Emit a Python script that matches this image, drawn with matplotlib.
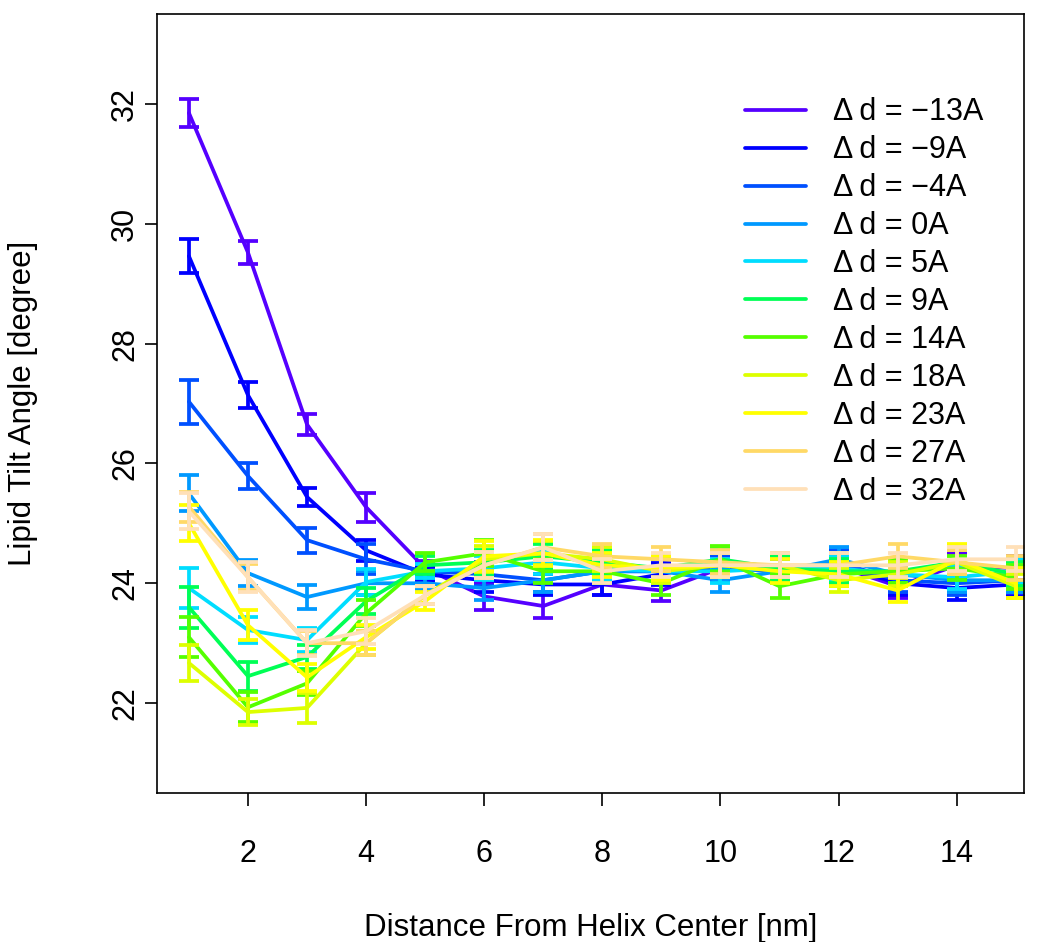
import matplotlib
matplotlib.use("Agg")
import matplotlib.pyplot as plt
import numpy as np

plt.rcParams['font.family'] = ['Liberation Sans', 'DejaVu Sans']

distance = list(range(1, 16))
labels = ["Δ\u2009d = −13A", "Δ\u2009d = −9A", "Δ\u2009d = −4A", "Δ\u2009d = 0A", "Δ\u2009d = 5A",
          "Δ\u2009d = 9A", "Δ\u2009d = 14A", "Δ\u2009d = 18A", "Δ\u2009d = 23A", "Δ\u2009d = 27A",
          "Δ\u2009d = 32A"]
colors = ["#5500FF", "#0000FF", "#0050FF", "#0099FF", "#00DDFF", "#00FF55",
          "#55FF00", "#DDFF00", "#FFFF00", "#FFD966", "#FFE0B8"]

tilt_m13 = [31.85, 29.52, 26.65, 25.27, 24.25, 23.78, 23.62, 23.98, 23.88, 24.25, 24.22, 24.28, 23.95, 24.30, 24.25]
tilt_m9  = [29.46, 27.14, 25.44, 24.55, 24.15, 24.05, 23.98, 23.98, 24.15, 24.35, 24.25, 24.30, 24.00, 23.92, 23.98]
tilt_m4  = [27.03, 25.79, 24.72, 24.40, 24.20, 24.15, 24.05, 24.20, 24.20, 24.25, 24.20, 24.35, 24.05, 24.00, 24.05]
tilt_0   = [25.50, 24.17, 23.77, 24.00, 24.00, 23.92, 24.05, 24.20, 24.20, 24.05, 24.20, 24.40, 24.15, 24.05, 24.05]
tilt_5   = [23.92, 23.22, 23.05, 24.02, 24.20, 24.25, 24.35, 24.25, 24.20, 24.20, 24.25, 24.25, 24.15, 24.10, 24.20]
tilt_9   = [23.60, 22.45, 22.77, 23.70, 24.30, 24.35, 24.45, 24.35, 24.25, 24.40, 24.25, 24.20, 24.20, 24.35, 24.15]
tilt_14  = [23.10, 21.93, 22.33, 23.50, 24.35, 24.50, 24.20, 24.20, 24.00, 24.40, 23.95, 24.15, 24.20, 24.25, 24.10]
tilt_18  = [22.67, 21.85, 21.92, 23.00, 23.80, 24.40, 24.50, 24.40, 24.20, 24.30, 24.30, 24.05, 24.15, 24.35, 23.95]
tilt_23  = [25.00, 23.30, 22.43, 23.10, 23.70, 24.45, 24.50, 24.30, 24.25, 24.30, 24.20, 24.15, 23.88, 24.40, 24.00]
tilt_27  = [25.28, 24.10, 23.00, 23.00, 23.80, 24.30, 24.60, 24.45, 24.40, 24.35, 24.30, 24.30, 24.45, 24.35, 24.25]
tilt_32  = [25.20, 24.10, 23.00, 23.20, 23.80, 24.30, 24.60, 24.20, 24.30, 24.30, 24.30, 24.30, 24.30, 24.40, 24.40]

err_m13 = [0.24, 0.20, 0.18, 0.24, 0.12, 0.22, 0.20, 0.18, 0.18, 0.20, 0.20, 0.20, 0.20, 0.20, 0.20]
err_m9  = [0.28, 0.22, 0.15, 0.18, 0.12, 0.20, 0.18, 0.18, 0.18, 0.20, 0.20, 0.20, 0.20, 0.20, 0.20]
err_m4  = [0.37, 0.22, 0.21, 0.25, 0.12, 0.20, 0.20, 0.20, 0.20, 0.22, 0.20, 0.20, 0.20, 0.20, 0.20]
err_0   = [0.30, 0.22, 0.20, 0.20, 0.12, 0.20, 0.20, 0.20, 0.20, 0.20, 0.20, 0.20, 0.20, 0.20, 0.20]
err_5   = [0.33, 0.22, 0.20, 0.22, 0.12, 0.20, 0.20, 0.20, 0.20, 0.20, 0.20, 0.20, 0.20, 0.20, 0.20]
err_9   = [0.34, 0.24, 0.20, 0.22, 0.15, 0.20, 0.20, 0.20, 0.20, 0.20, 0.20, 0.20, 0.20, 0.20, 0.20]
err_14  = [0.33, 0.25, 0.20, 0.22, 0.15, 0.22, 0.20, 0.20, 0.20, 0.22, 0.20, 0.20, 0.20, 0.20, 0.20]
err_18  = [0.30, 0.22, 0.25, 0.20, 0.15, 0.22, 0.20, 0.20, 0.20, 0.20, 0.20, 0.20, 0.20, 0.20, 0.20]
err_23  = [0.30, 0.25, 0.22, 0.20, 0.15, 0.25, 0.22, 0.20, 0.20, 0.20, 0.20, 0.20, 0.20, 0.25, 0.25]
err_27  = [0.25, 0.22, 0.20, 0.20, 0.15, 0.22, 0.22, 0.20, 0.20, 0.20, 0.20, 0.20, 0.20, 0.20, 0.20]
err_32  = [0.30, 0.25, 0.22, 0.22, 0.15, 0.22, 0.22, 0.20, 0.20, 0.20, 0.20, 0.20, 0.20, 0.20, 0.20]

series = [tilt_m13, tilt_m9, tilt_m4, tilt_0, tilt_5, tilt_9, tilt_14, tilt_18, tilt_23, tilt_27, tilt_32]
errors = [err_m13, err_m9, err_m4, err_0, err_5, err_9, err_14, err_18, err_23, err_27, err_32]

xticks = [2, 4, 6, 8, 10, 12, 14]
yticks = [22, 24, 26, 28, 30, 32]

fig = plt.figure(figsize=(10.37, 9.42), dpi=100)
ax = fig.add_axes([0.1514, 0.1582, 0.8361, 0.8269])

for vals, errs, c, lab in zip(series, errors, colors, labels):
    ax.plot(distance, vals, color=c, lw=2.7, label=lab, solid_capstyle='round')
    ax.errorbar(distance, vals, yerr=errs, fmt='none', ecolor=c, elinewidth=2.7,
                capsize=7.5, capthick=2.7)

ax.set_xlim(0.46, 15.14)
ax.set_ylim(20.5, 33.5)
ax.set_xticks(xticks)
ax.set_yticks(yticks)
ax.tick_params(axis='both', direction='out', length=9, width=1.2, labelsize=22, pad=3)
ax.tick_params(axis='x', pad=24)
for lbl in ax.get_yticklabels():
    lbl.set_rotation(90)
    lbl.set_va('center')
for sp in ax.spines.values():
    sp.set_linewidth(1.2)

ax.set_xlabel("Distance From Helix Center [nm]", fontsize=22.5, labelpad=32)
ax.set_ylabel("Lipid Tilt Angle [degree]", fontsize=22.5, labelpad=52)

ax.legend(loc='upper left', bbox_to_anchor=(0.678, 0.893), frameon=False, fontsize=22,
          handlelength=2.0, handletextpad=0.9, labelspacing=0.26, borderaxespad=0,
          borderpad=0)

fig.savefig("out.png", dpi=100)
